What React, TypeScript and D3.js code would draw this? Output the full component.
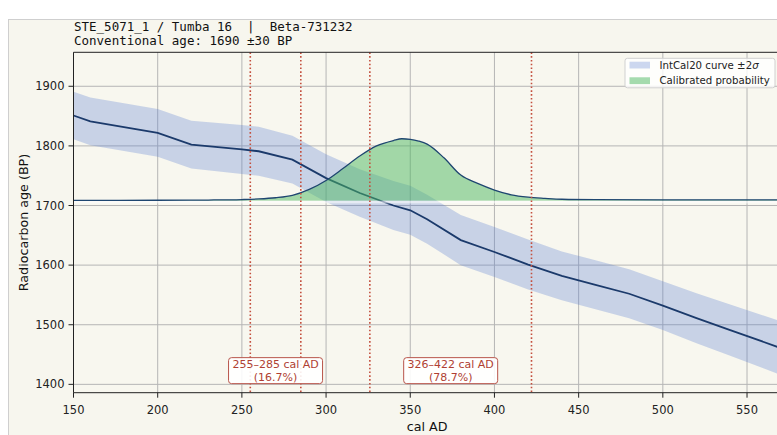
import * as d3 from "d3";

const W = 777;
const H = 435;
const plot = { left: 73.5, top: 52.3, right: 780.7, bottom: 392.7 };

const titleLines = ["STE_5071_1 / Tumba 16  |  Beta-731232", "Conventional age: 1690 ±30 BP"];

const xTicks = [150, 200, 250, 300, 350, 400, 450, 500, 550];
const yTicks = [1400, 1500, 1600, 1700, 1800, 1900];

// IntCal20 curve (mean and 2 sigma half width)
const curveYears = [150, 160, 200, 220, 250, 260, 280, 300, 320, 340, 350, 360, 380, 400, 420, 440, 460, 480, 500, 520, 540, 570];
const curveMean = [1851, 1841, 1822, 1802, 1794, 1791, 1777, 1746, 1721, 1700, 1692, 1677, 1642, 1622, 1601, 1582, 1567, 1552, 1532, 1511, 1491, 1461];
const curveSigma2 = [40, 40, 40, 40, 41, 41, 40, 40, 40, 41, 41, 41, 42, 42, 42, 41, 41, 41, 41, 42, 43, 45];

// calibrated probability, drawn as height above a baseline (BP units)
const probBaseline = 1708;
const probYears = [150, 200, 230, 250, 260, 270, 280, 290, 300, 310, 320, 330, 340, 345, 350, 355, 360, 370, 380, 390, 400, 410, 420, 430, 440, 460, 500, 570];
const probHeight = [0.5, 0.8, 1.2, 2, 3, 5, 9, 19, 34, 54, 75, 92, 101, 104, 103, 100, 95, 72, 43, 29, 18, 10, 6, 4, 2.5, 1.8, 1.5, 1.5];

// hpd ranges
const rangeFrom = [255, 326];
const rangeTo = [285, 422];
const rangePct = ["16.7%", "78.7%"];
const labelAge = 1423;

const sans = "DejaVu Sans, sans-serif";
const mono = "DejaVu Sans Mono, monospace";
const red = "#c4503f";
const bandColor = "#5a7fd0";

export default function App() {
  const x = d3.scaleLinear().domain([150, 570]).range([plot.left, plot.right]);
  const y = d3.scaleLinear().domain([1386, 1957]).range([plot.bottom, plot.top]);

  const curve = curveYears.map((yr, i) => ({ yr, m: curveMean[i], s: curveSigma2[i] }));
  const prob = probYears.map((yr, i) => ({ yr, h: probHeight[i] }));

  const band = d3
    .area<{ yr: number; m: number; s: number }>()
    .x(d => x(d.yr))
    .y0(d => y(d.m - d.s))
    .y1(d => y(d.m + d.s))(curve)!;
  const meanLine = d3
    .line<{ yr: number; m: number }>()
    .x(d => x(d.yr))
    .y(d => y(d.m))(curve)!;

  const probArea = d3
    .area<{ yr: number; h: number }>()
    .x(d => x(d.yr))
    .y0(y(probBaseline))
    .y1(d => y(probBaseline + d.h))
    .curve(d3.curveMonotoneX)(prob)!;
  const probLine = d3
    .line<{ yr: number; h: number }>()
    .x(d => x(d.yr))
    .y(d => y(probBaseline + d.h))
    .curve(d3.curveMonotoneX)(prob)!;

  const pw = plot.right - plot.left;
  const ph = plot.bottom - plot.top;

  return (
    <svg width={W} height={H} style={{ position: "absolute", left: 0, top: 0 }}>
      <defs>
        <clipPath id="plotclip">
          <rect x={plot.left} y={plot.top} width={pw} height={ph} />
        </clipPath>
      </defs>
      <rect x={0} y={0} width={W} height={H} fill="#ffffff" />
      <rect x={8.5} y={19.5} width={900} height={600} fill="#f7f6ee" stroke="#cfcfcf" />

      {titleLines.map((t, i) => (
        <text
          key={i}
          x={74}
          y={31 + i * 14}
          fontFamily={mono}
          fontSize={12.5}
          fill="#111"
          style={{ whiteSpace: "pre" }}
        >
          {t}
        </text>
      ))}

      <rect x={plot.left} y={plot.top} width={pw} height={ph} fill="#f8f7ef" />

      {/* grid */}
      <g stroke="#b5b5b5" strokeWidth={1}>
        {xTicks.map(t => (
          <line key={t} x1={x(t)} x2={x(t)} y1={plot.top} y2={plot.bottom} />
        ))}
        {yTicks.map(t => (
          <line key={t} x1={plot.left} x2={plot.right} y1={y(t)} y2={y(t)} />
        ))}
      </g>

      <g clipPath="url(#plotclip)">
        <path d={band} fill={bandColor} fillOpacity={0.3} />
        <path d={meanLine} fill="none" stroke="#1b3a6b" strokeWidth={1.8} />
        <path d={probArea} fill="#4cb860" fillOpacity={0.5} />
        <rect
          x={plot.left}
          y={y(probBaseline)}
          width={pw}
          height={y(probBaseline - 4.5) - y(probBaseline)}
          fill="#ffffff"
          fillOpacity={0.55}
        />
        <path d={probLine} fill="none" stroke="#1f4670" strokeWidth={1.3} />

        {[...rangeFrom, ...rangeTo].map(b => (
          <line
            key={b}
            x1={x(b)}
            x2={x(b)}
            y1={plot.top}
            y2={plot.bottom}
            stroke={red}
            strokeWidth={1.6}
            strokeDasharray="1.6 2.2"
          />
        ))}
      </g>

      {rangeFrom.map((f, i) => {
        const cx = x((f + rangeTo[i]) / 2);
        const cy = y(labelAge);
        return (
          <g key={f}>
            <rect
              x={cx - 47}
              y={cy - 13}
              width={94}
              height={26}
              rx={3}
              fill="#ffffff"
              fillOpacity={0.9}
              stroke="#b8544a"
              strokeWidth={1}
            />
            <text x={cx} y={cy - 2.2} textAnchor="middle" fontFamily={sans} fontSize={11} fill="#b03f33">
              {`${f}–${rangeTo[i]} cal AD`}
            </text>
            <text x={cx} y={cy + 10} textAnchor="middle" fontFamily={sans} fontSize={11} fill="#b03f33">
              {`(${rangePct[i]})`}
            </text>
          </g>
        );
      })}

      {/* legend */}
      <g>
        <rect x={625} y={58.3} width={150} height={29.5} rx={2.5} fill="#ffffff" fillOpacity={0.8} stroke="#d0d0d0" />
        <rect x={629.5} y={61.7} width={20.5} height={6.8} fill={bandColor} fillOpacity={0.3} />
        <rect x={629.5} y={77.3} width={20.5} height={6.8} fill="#4cb860" fillOpacity={0.5} />
        <text x={659.5} y={68.8} fontFamily={sans} fontSize={10.2} fill="#222">
          IntCal20 curve ±2<tspan fontStyle="italic">σ</tspan>
        </text>
        <text x={659.5} y={84.4} fontFamily={sans} fontSize={10.2} fill="#222">
          Calibrated probability
        </text>
      </g>

      {/* spines */}
      <g stroke="#222" strokeWidth={1} fill="none">
        <line x1={plot.left} x2={plot.right} y1={plot.top} y2={plot.top} />
        <line x1={plot.left} x2={plot.right} y1={plot.bottom} y2={plot.bottom} />
        <line x1={plot.left} x2={plot.left} y1={plot.top} y2={plot.bottom} />
      </g>

      {/* ticks */}
      {xTicks.map(t => (
        <g key={t}>
          <line x1={x(t)} x2={x(t)} y1={plot.bottom} y2={plot.bottom + 5} stroke="#222" />
          <text x={x(t)} y={414} textAnchor="middle" fontFamily={sans} fontSize={11.5} fill="#222">
            {t}
          </text>
        </g>
      ))}
      {yTicks.map(t => (
        <g key={t}>
          <line x1={plot.left - 5} x2={plot.left} y1={y(t)} y2={y(t)} stroke="#222" />
          <text x={plot.left - 9} y={y(t) + 4.1} textAnchor="end" fontFamily={sans} fontSize={11.5} fill="#222">
            {t}
          </text>
        </g>
      ))}

      <text x={(plot.left + plot.right) / 2} y={430.5} textAnchor="middle" fontFamily={sans} fontSize={12.7} fill="#111">
        cal AD
      </text>
      <text
        transform={`translate(27.5, ${(plot.top + plot.bottom) / 2}) rotate(-90)`}
        textAnchor="middle"
        fontFamily={sans}
        fontSize={12.7}
        fill="#111"
      >
        Radiocarbon age (BP)
      </text>
    </svg>
  );
}
